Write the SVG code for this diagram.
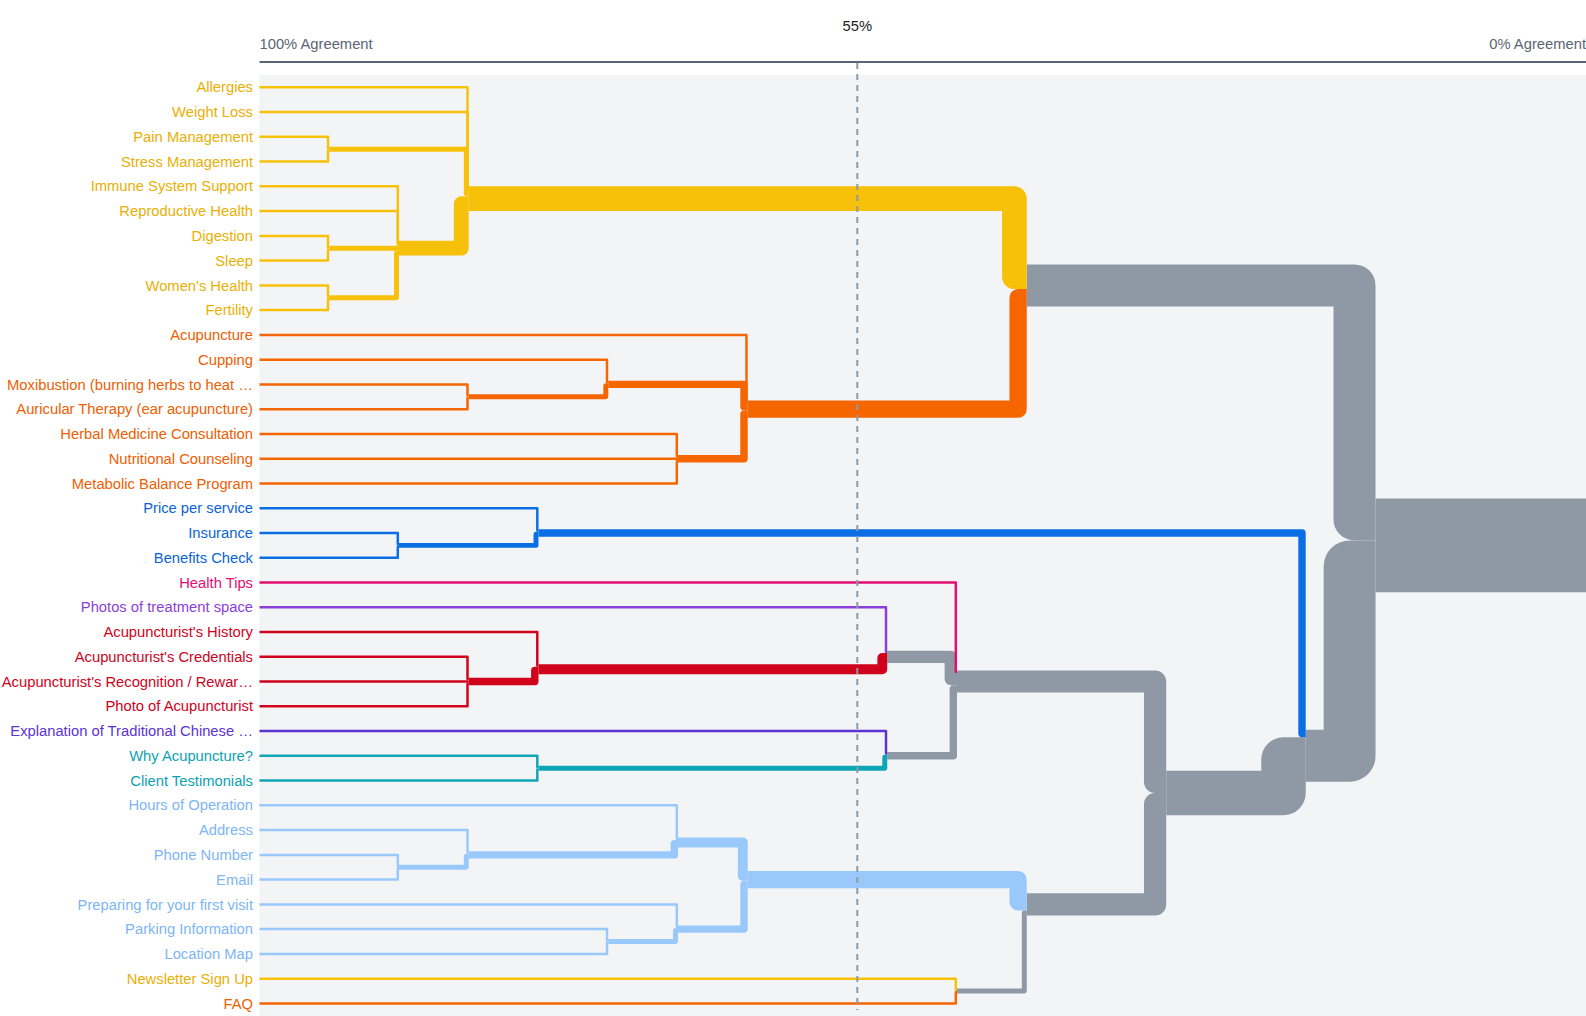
<svg xmlns="http://www.w3.org/2000/svg" width="1586" height="1016" viewBox="0 0 1586 1016">
<style>
text{font-family:"Liberation Sans",Arial,Helvetica,sans-serif;font-size:14.75px}
.lb{text-anchor:end}
.lk{fill:none;stroke-linejoin:round;stroke-linecap:butt}
.w1{stroke-width:2.47}.w2{stroke-width:4.94}.w3{stroke-width:7.41}.w4{stroke-width:9.88}.w5{stroke-width:12.35}.w6{stroke-width:14.82}.w7{stroke-width:17.29}.w9{stroke-width:22.23}.w10{stroke-width:24.7}.w17{stroke-width:41.99}.w18{stroke-width:44.46}.w21{stroke-width:51.87}.w38{stroke-width:93.86}
.sy{stroke:#F7C10A}.so{stroke:#F56600}.sb{stroke:#0A6FE5}.sp{stroke:#E20E72}.su{stroke:#8B3FD9}.sr{stroke:#D0021B}.si{stroke:#5B34D4}.st{stroke:#0DA6B6}.sl{stroke:#99C8FA}.sg{stroke:#8E99A5}
.ty{fill:#E9B004}.to{fill:#EE6002}.tb{fill:#0A64D6}.tp{fill:#E20E72}.tu{fill:#8B3FD9}.tr{fill:#D0021B}.ti{fill:#5B34D4}.tt{fill:#0DA2B2}.tl{fill:#7DB6F5}
</style>
<rect x="0" y="0" width="1586" height="1016" fill="#FFFFFF"/>
<rect x="259.5" y="75" width="1327" height="941" fill="#F3F4F6"/>
<g id="axis">
<line x1="259.5" y1="62" x2="1586" y2="62" stroke="#5B6573" stroke-width="2"/>
<text x="259.5" y="49" fill="#5B6573">100% Agreement</text>
<text x="1586" y="49" fill="#5B6573" text-anchor="end">0% Agreement</text>
<text x="857.3" y="31" fill="#1F2328" text-anchor="middle">55%</text>
</g>
<g id="connectors">
<path class="lk sg w38" d="M1375.5 545.4H1590"/>
<path class="lk sg w21" d="M1305.75 755.8H1349.6V566.4H1375.5"/>
<path class="lk sg w18" d="M1166.25 793H1283.5V759.5H1305.75"/>
<path class="lk sg w17" d="M1026.75 285.4H1354.5V519.4H1375.5"/>
<path class="lk sy w10" d="M468.75 198.7H1014.4V276.7H1026.75"/>
<path class="lk sg w9" d="M957 681.5H1155.1V781.8H1166.25"/>
<path class="lk sg w9" d="M1026.75 904.4H1155.1V804.1H1166.25"/>
<path class="lk so w7" d="M747.75 409.2H1018.1V297.7H1026.75"/>
<path class="lk sl w7" d="M747.75 879.6H1018.1V901.9H1026.75"/>
<path class="lk sy w6" d="M399 248.2H461.3V203.7H468.75"/>
<path class="lk sg w5" d="M887.25 656.8H950.8V679.1H957"/>
<path class="lk sr w4" d="M538.5 669.2H882.3V658H887.25"/>
<path class="lk sl w4" d="M678 842.5H742.8V875.9H747.75"/>
<path class="lk sb w3" d="M538.5 533H1302V733.6H1305.75"/>
<path class="lk sg w3" d="M887.25 755.8H953.3V689H957"/>
<path class="lk so w3" d="M608.25 384.4H744V406.7H747.75"/>
<path class="lk so w3" d="M678 458.7H744V414.1H747.75"/>
<path class="lk sr w3" d="M468.75 681.5H534.8V670.4H538.5"/>
<path class="lk sl w3" d="M468.75 854.9H674.3V843.7H678"/>
<path class="lk sl w3" d="M678 929.1H744V884.6H747.75"/>
<path class="lk sy w2" d="M329.25 149.2H466.3V193.8H468.75"/>
<path class="lk sy w2" d="M329.25 248.2H399"/>
<path class="lk sy w2" d="M329.25 297.8H396.5V253.2H399"/>
<path class="lk so w2" d="M468.75 396.8H605.8V385.7H608.25"/>
<path class="lk sb w2" d="M399 545.4H536V534.2H538.5"/>
<path class="lk st w2" d="M538.5 768.2H884.8V757.1H887.25"/>
<path class="lk sl w2" d="M399 867.2H466.3V856.1H468.75"/>
<path class="lk sl w2" d="M608.25 941.5H675.5V930.4H678"/>
<path class="lk sg w2" d="M957 991H1024.3V913H1026.75"/>
<path class="lk sy w1" d="M259.5 87.3H467.5V187.6H468.75"/>
<path class="lk sy w1" d="M259.5 112.1H467.5V190.1H468.75"/>
<path class="lk sy w1" d="M259.5 136.8H328V148H329.25"/>
<path class="lk sy w1" d="M259.5 161.6H328V150.4H329.25"/>
<path class="lk sy w1" d="M259.5 186.3H397.8V242.1H399"/>
<path class="lk sy w1" d="M259.5 211.1H397.8V244.5H399"/>
<path class="lk sy w1" d="M259.5 235.9H328V247H329.25"/>
<path class="lk sy w1" d="M259.5 260.6H328V249.5H329.25"/>
<path class="lk sy w1" d="M259.5 285.4H328V296.5H329.25"/>
<path class="lk sy w1" d="M259.5 310.1H328V299H329.25"/>
<path class="lk so w1" d="M259.5 334.9H746.5V401.8H747.75"/>
<path class="lk so w1" d="M259.5 359.7H607V382H608.25"/>
<path class="lk so w1" d="M259.5 384.4H467.5V395.6H468.75"/>
<path class="lk so w1" d="M259.5 409.2H467.5V398H468.75"/>
<path class="lk so w1" d="M259.5 433.9H676.8V456.2H678"/>
<path class="lk so w1" d="M259.5 458.7H678"/>
<path class="lk so w1" d="M259.5 483.5H676.8V461.2H678"/>
<path class="lk sb w1" d="M259.5 508.2H537.3V530.5H538.5"/>
<path class="lk sb w1" d="M259.5 533H397.8V544.1H399"/>
<path class="lk sb w1" d="M259.5 557.7H397.8V546.6H399"/>
<path class="lk sp w1" d="M259.5 582.5H955.8V671.7H957"/>
<path class="lk su w1" d="M259.5 607.3H886V651.8H887.25"/>
<path class="lk sr w1" d="M259.5 632H537.3V665.5H538.5"/>
<path class="lk sr w1" d="M259.5 656.8H467.5V679.1H468.75"/>
<path class="lk sr w1" d="M259.5 681.5H468.75"/>
<path class="lk sr w1" d="M259.5 706.3H467.5V684H468.75"/>
<path class="lk si w1" d="M259.5 731.1H886V753.4H887.25"/>
<path class="lk st w1" d="M259.5 755.8H537.3V767H538.5"/>
<path class="lk st w1" d="M259.5 780.6H537.3V769.4H538.5"/>
<path class="lk sl w1" d="M259.5 805.3H676.8V838.8H678"/>
<path class="lk sl w1" d="M259.5 830.1H467.5V852.4H468.75"/>
<path class="lk sl w1" d="M259.5 854.9H397.8V866H399"/>
<path class="lk sl w1" d="M259.5 879.6H397.8V868.5H399"/>
<path class="lk sl w1" d="M259.5 904.4H676.8V926.7H678"/>
<path class="lk sl w1" d="M259.5 929.1H607V940.3H608.25"/>
<path class="lk sl w1" d="M259.5 953.9H607V942.8H608.25"/>
<path class="lk sy w1" d="M259.5 978.7H955.8V989.8H957"/>
<path class="lk so w1" d="M259.5 1003.4H955.8V992.3H957"/>
</g>
<line id="threshold" x1="857.3" y1="63" x2="857.3" y2="1010" stroke="#8E99A5" stroke-width="2" stroke-dasharray="6 5"/>
<g id="n-allergies"><text class="lb ty" x="253" y="92.4">Allergies</text></g>
<g id="n-weight-loss"><text class="lb ty" x="253" y="117.2">Weight Loss</text></g>
<g id="n-pain-management"><text class="lb ty" x="253" y="141.9">Pain Management</text></g>
<g id="n-stress-management"><text class="lb ty" x="253" y="166.7">Stress Management</text></g>
<g id="n-immune-system-support"><text class="lb ty" x="253" y="191.4">Immune System Support</text></g>
<g id="n-reproductive-health"><text class="lb ty" x="253" y="216.2">Reproductive Health</text></g>
<g id="n-digestion"><text class="lb ty" x="253" y="241">Digestion</text></g>
<g id="n-sleep"><text class="lb ty" x="253" y="265.7">Sleep</text></g>
<g id="n-womens-health"><text class="lb ty" x="253" y="290.5">Women's Health</text></g>
<g id="n-fertility"><text class="lb ty" x="253" y="315.2">Fertility</text></g>
<g id="n-acupuncture"><text class="lb to" x="253" y="340">Acupuncture</text></g>
<g id="n-cupping"><text class="lb to" x="253" y="364.8">Cupping</text></g>
<g id="n-moxibustion"><text class="lb to" x="253" y="389.5">Moxibustion (burning herbs to heat …</text></g>
<g id="n-auricular-therapy"><text class="lb to" x="253" y="414.3">Auricular Therapy (ear acupuncture)</text></g>
<g id="n-herbal-medicine"><text class="lb to" x="253" y="439">Herbal Medicine Consultation</text></g>
<g id="n-nutritional-counseling"><text class="lb to" x="253" y="463.8">Nutritional Counseling</text></g>
<g id="n-metabolic-balance"><text class="lb to" x="253" y="488.6">Metabolic Balance Program</text></g>
<g id="n-price"><text class="lb tb" x="253" y="513.3">Price per service</text></g>
<g id="n-insurance"><text class="lb tb" x="253" y="538.1">Insurance</text></g>
<g id="n-benefits-check"><text class="lb tb" x="253" y="562.8">Benefits Check</text></g>
<g id="n-health-tips"><text class="lb tp" x="253" y="587.6">Health Tips</text></g>
<g id="n-photos-space"><text class="lb tu" x="253" y="612.4">Photos of treatment space</text></g>
<g id="n-history"><text class="lb tr" x="253" y="637.1">Acupuncturist's History</text></g>
<g id="n-credentials"><text class="lb tr" x="253" y="661.9">Acupuncturist's Credentials</text></g>
<g id="n-recognition"><text class="lb tr" x="253" y="686.6">Acupuncturist's Recognition / Rewar…</text></g>
<g id="n-photo-acupuncturist"><text class="lb tr" x="253" y="711.4">Photo of Acupuncturist</text></g>
<g id="n-explanation"><text class="lb ti" x="253" y="736.2">Explanation of Traditional Chinese …</text></g>
<g id="n-why-acupuncture"><text class="lb tt" x="253" y="760.9">Why Acupuncture?</text></g>
<g id="n-client-testimonials"><text class="lb tt" x="253" y="785.7">Client Testimonials</text></g>
<g id="n-hours"><text class="lb tl" x="253" y="810.4">Hours of Operation</text></g>
<g id="n-address"><text class="lb tl" x="253" y="835.2">Address</text></g>
<g id="n-phone"><text class="lb tl" x="253" y="860">Phone Number</text></g>
<g id="n-email"><text class="lb tl" x="253" y="884.7">Email</text></g>
<g id="n-preparing"><text class="lb tl" x="253" y="909.5">Preparing for your first visit</text></g>
<g id="n-parking"><text class="lb tl" x="253" y="934.2">Parking Information</text></g>
<g id="n-location-map"><text class="lb tl" x="253" y="959">Location Map</text></g>
<g id="n-newsletter"><text class="lb ty" x="253" y="983.8">Newsletter Sign Up</text></g>
<g id="n-faq"><text class="lb to" x="253" y="1008.5">FAQ</text></g>
</svg>
